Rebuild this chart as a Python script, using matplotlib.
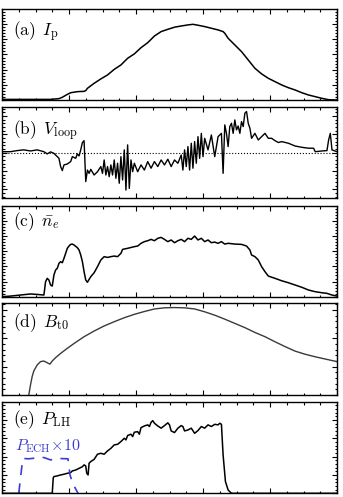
import matplotlib.pyplot as plt
from matplotlib.ticker import MultipleLocator

# LaTeX-like fonts for the panel labels
plt.rcParams['mathtext.fontset'] = 'cm'
plt.rcParams['font.family'] = ['DejaVu Serif']

# time axis [s]
t_ip = [0.0, 1.45, 1.7, 1.8, 1.95, 2.05, 2.25, 2.45, 2.5, 2.55, 2.75, 2.95, 3.15, 3.35,
        3.55, 3.75, 3.95, 4.15, 4.35, 4.55, 4.75, 4.95, 5.15, 5.35, 5.55, 5.7, 5.85,
        6.05, 6.25, 6.45, 6.6, 6.65, 6.75, 6.95, 7.15, 7.35, 7.55, 7.75, 7.95, 8.15,
        8.35, 8.55, 8.75, 8.95, 9.15, 9.35, 9.55, 9.75, 10.0]
ip = [4, 4, 9, 18, 37, 48, 55, 57, 62, 77, 110, 139, 165, 202,
      231, 275, 304, 345, 378, 422, 451, 466, 480, 488, 495, 499, 493,
      484, 473, 462, 451, 440, 407, 363, 319, 264, 209, 172, 143, 121,
      99, 81, 66, 48, 33, 22, 11, 2, 0]

t_v = [0.0, 0.25, 0.45, 0.65, 0.85, 1.05, 1.25, 1.35, 1.45, 1.55, 1.7, 1.75, 1.8, 1.85,
       1.95, 2.05, 2.1, 2.2, 2.25, 2.3, 2.35, 2.4, 2.45, 2.5, 2.55, 2.6, 2.65, 2.75,
       2.85, 2.95, 3.0, 3.05, 3.1, 3.15, 3.2, 3.25, 3.3, 3.35, 3.4, 3.45, 3.5, 3.55,
       3.6, 3.65, 3.7, 3.75, 3.8, 3.85, 3.9, 3.95, 4.05, 4.15, 4.25, 4.35, 4.45, 4.55,
       4.65, 4.75, 4.85, 4.95, 5.05, 5.15, 5.25, 5.35, 5.4, 5.45, 5.5, 5.55, 5.6, 5.65,
       5.7, 5.75, 5.8, 5.85, 5.9, 5.95, 6.0, 6.05, 6.15, 6.25, 6.35, 6.45, 6.55, 6.6,
       6.65, 6.7, 6.75, 6.8, 6.85, 6.9, 6.95, 7.0, 7.05, 7.1, 7.15, 7.2, 7.25, 7.3,
       7.35, 7.4, 7.45, 7.55, 7.65, 7.75, 7.85, 7.95, 8.05, 8.15, 8.25, 8.35, 8.55,
       8.75, 8.95, 9.15, 9.3, 9.35, 9.55, 9.7, 9.75, 9.8, 9.85, 10.0]
vloop = [0.05, 0.05, 0.11, 0.15, 0.09, 0.15, 0.05, -0.07, 0.04, -0.04, -0.31, -0.76, -0.98, -0.67,
         -0.62, -0.49, -0.22, -0.31, -0.07, -0.18, 0.15, 0.55, 0.65, -1.58, -0.95, -1.13, -0.91, -1.22,
         -1.04, -0.76, -1.13, -0.40, -1.22, -0.76, -1.31, -0.67, -1.22, -0.40, -1.40, -0.58, -1.67, -0.22,
         -1.49, 0.15, -2.04, 0.42, -1.95, -0.40, -1.04, -0.58, -1.04, -0.67, -0.95, -0.49, -0.85, -0.49,
         -0.76, -0.40, -0.67, -0.36, -0.76, -0.40, -0.58, -0.13, -0.95, 0.15, -0.76, 0.33, -0.95, 0.51,
         -0.85, 0.60, -0.58, 0.87, -0.31, 1.05, -0.22, 0.78, 0.15, 0.96, -0.22, 0.87, 1.05, -1.13,
         1.51, 1.05, 0.33, 1.42, 1.60, 1.05, 1.78, 1.24, 1.45, 1.05, 1.69, 1.42, 2.15, 2.24,
         1.60, 1.33, 0.78, 1.05, 0.69, 0.87, 1.05, 0.78, 0.78, 0.65, 0.55, 0.60, 0.51,
         0.36, 0.29, 0.24, 0.24, 0.05, 0.09, 0.11, 0.69, 1.05, 0.15, 0.05]

t_ne = [0.0, 0.25, 0.55, 0.85, 1.05, 1.25, 1.27, 1.3, 1.35, 1.4, 1.45, 1.5, 1.55, 1.6,
        1.65, 1.7, 1.75, 1.8, 1.85, 1.9, 1.95, 2.0, 2.05, 2.1, 2.15, 2.25, 2.3, 2.35,
        2.4, 2.45, 2.5, 2.55, 2.6, 2.65, 2.75, 2.85, 2.95, 3.05, 3.15, 3.25, 3.35, 3.45,
        3.55, 3.6, 3.75, 3.95, 4.05, 4.15, 4.25, 4.35, 4.45, 4.55, 4.65, 4.75, 4.85, 4.95,
        5.05, 5.15, 5.25, 5.35, 5.45, 5.55, 5.65, 5.75, 5.85, 5.95, 6.05, 6.15, 6.25, 6.35,
        6.45, 6.55, 6.65, 6.75, 6.95, 7.15, 7.3, 7.4, 7.45, 7.55, 7.65, 7.75, 7.85, 7.95,
        8.15, 8.35, 8.55, 8.75, 8.95, 9.15, 9.35, 9.55, 9.7, 9.85, 10.0]
ne = [0.0, 0.04, 0.11, 0.18, 0.15, 0.11, 0.44, 0.99, 1.21, 1.10, 0.77, 0.70, 1.43, 1.76,
      1.87, 2.20, 2.31, 2.24, 2.53, 2.86, 3.19, 3.34, 3.45, 3.47, 3.41, 3.23, 3.08, 2.75,
      2.31, 1.65, 1.10, 0.95, 1.14, 1.32, 1.58, 1.98, 2.42, 2.64, 2.59, 2.64, 2.68, 2.64,
      2.86, 3.12, 3.19, 3.30, 3.34, 3.52, 3.63, 3.69, 3.78, 3.69, 3.85, 3.91, 3.78, 3.63,
      3.74, 3.56, 3.69, 3.78, 3.63, 3.85, 3.78, 4.00, 3.74, 3.85, 3.63, 3.74, 3.56, 3.60,
      3.52, 3.63, 3.47, 3.52, 3.47, 3.45, 3.34, 3.08, 2.75, 2.64, 2.42, 1.98, 1.65, 1.36,
      1.21, 1.05, 0.92, 0.77, 0.62, 0.44, 0.33, 0.26, 0.22, 0.11, 0.04]

t_bt = [0.8, 0.85, 0.9, 0.95, 1.05, 1.15, 1.25, 1.35, 1.43, 1.5, 1.6, 1.75, 1.95, 2.15,
        2.45, 2.75, 3.05, 3.35, 3.65, 3.95, 4.25, 4.55, 4.85, 5.15, 5.45, 5.75, 6.05, 6.35,
        6.65, 6.95, 7.25, 7.55, 7.85, 8.15, 8.45, 8.75, 9.05, 9.35, 9.65, 10.0]
bt = [0.0, 0.35, 0.65, 0.85, 1.06, 1.18, 1.20, 1.14, 1.09, 1.20, 1.32, 1.47, 1.65, 1.82,
      2.06, 2.26, 2.44, 2.59, 2.73, 2.85, 2.95, 3.04, 3.08, 3.09, 3.08, 3.04, 2.94, 2.82,
      2.68, 2.53, 2.38, 2.21, 2.06, 1.88, 1.71, 1.55, 1.44, 1.35, 1.27, 1.18]

t_lh = [0.0, 1.5, 1.53, 1.55, 1.65, 1.75, 1.85, 1.95, 2.05, 2.1, 2.2, 2.3, 2.4, 2.45,
        2.5, 2.53, 2.57, 2.6, 2.65, 2.75, 2.85, 2.95, 3.05, 3.15, 3.25, 3.35, 3.45, 3.55,
        3.65, 3.7, 3.75, 3.85, 3.9, 3.95, 4.05, 4.1, 4.15, 4.25, 4.35, 4.4, 4.45, 4.5,
        4.55, 4.65, 4.75, 4.85, 4.95, 5.0, 5.05, 5.15, 5.25, 5.35, 5.4, 5.45, 5.55, 5.65,
        5.75, 5.85, 5.95, 6.05, 6.15, 6.25, 6.35, 6.45, 6.5, 6.55, 6.6, 6.67, 6.75, 6.85, 10.0]
p_lh = [0.0, 0.0, 0.85, 0.91, 0.95, 1.00, 1.04, 1.09, 1.13, 1.22, 1.27, 1.36, 1.45, 1.55,
        1.49, 1.09, 1.00, 1.64, 1.73, 1.85, 2.13, 2.18, 2.13, 2.31, 2.45, 2.64, 2.67, 2.82,
        3.00, 2.91, 3.15, 3.22, 3.09, 3.33, 3.36, 3.22, 3.58, 3.67, 3.73, 3.64, 3.87, 3.96,
        3.82, 3.67, 3.55, 3.69, 3.84, 3.73, 3.40, 3.31, 3.55, 3.69, 3.64, 3.40, 3.45, 3.55,
        3.27, 3.42, 3.64, 3.55, 3.73, 3.64, 3.76, 3.73, 3.82, 3.76, 2.09, 0.64, 0.18, 0.0, 0.0]

# ECH power, multiplied by 10
t_ech = [0.50, 0.62, 0.80, 1.00, 1.25, 1.45, 1.65, 1.97, 2.03, 2.12, 2.27]
p_ech = [0.0, 1.90, 1.88, 1.92, 1.95, 1.82, 1.90, 1.88, 1.0, 0.5, 0.0]

# panel rows: (top, bottom) in pixels
fig = plt.figure(figsize=(3.43, 4.97), dpi=100)
W, H = 343.0, 497.0
rows = [(9.3, 100.0), (107.3, 198.3), (205.7, 296.7), (303.3, 395.0), (402.3, 493.3)]
axes = []
for top, bot in rows:
    ax = fig.add_axes([2 / W, 1 - bot / H, 335 / W, (bot - top) / H])
    axes.append(ax)

ax_a, ax_b, ax_c, ax_d, ax_e = axes

ax_a.plot(t_ip, ip, color='k', lw=1.1)
ax_a.set_ylim(0, 598)

ax_b.plot(t_v, vloop, color='k', lw=1.0)
ax_b.axhline(0, color='k', ls=':', lw=0.8)
ax_b.set_ylim(-2.49, 2.47)

ax_c.plot(t_ne, ne, color='k', lw=1.1)
ax_c.set_ylim(0, 6.0)

ax_d.plot(t_bt, bt, color='#3a3a3a', lw=1.0)
ax_d.set_ylim(0, 3.24)

ax_e.plot(t_lh, p_lh, color='k', lw=1.1)
ax_e.plot(t_ech, p_ech, color='#3c3cd0', lw=1.2, dashes=(6, 5))
ax_e.set_ylim(0, 4.96)
ax_e.text(0.038, 0.47, r'$P_{\mathrm{ECH}}\!\times\!10$', transform=ax_e.transAxes,
          color='#3c3cd0', fontsize=11.5, va='baseline')

labels = [r'$\mathrm{(a)}\ \,I_{\mathrm{p}}$', r'$\mathrm{(b)}\ \,V_{\mathrm{loop}}$',
          r'$\mathrm{(c)}\ \,\bar{n}_e$', r'$\mathrm{(d)}\ \,B_{\mathrm{t0}}$',
          r'$\mathrm{(e)}\ \,P_{\mathrm{LH}}$']
label_y = [0.71, 0.70, 0.775, 0.74, 0.76]
y_major = [100, 1, 1, 1, 1]
y_minor = [20, 0.2, 0.2, 0.2, 0.2]

for ax, lab, ly, ymj, ymn in zip(axes, labels, label_y, y_major, y_minor):
    ax.set_xlim(0, 10)
    ax.xaxis.set_major_locator(MultipleLocator(2))
    ax.xaxis.set_minor_locator(MultipleLocator(0.5))
    ax.yaxis.set_major_locator(MultipleLocator(ymj))
    ax.yaxis.set_minor_locator(MultipleLocator(ymn))
    ax.tick_params(which='both', direction='in', top=True, right=True,
                   labelbottom=False, labelleft=False, width=0.8)
    ax.tick_params(which='major', length=3.5)
    ax.tick_params(which='minor', length=1.8)
    for sp in ax.spines.values():
        sp.set_linewidth(1.0)
    ax.text(0.034, ly, lab, transform=ax.transAxes, fontsize=12.5, va='baseline')

plt.savefig('out.png', dpi=100)
plt.close()
